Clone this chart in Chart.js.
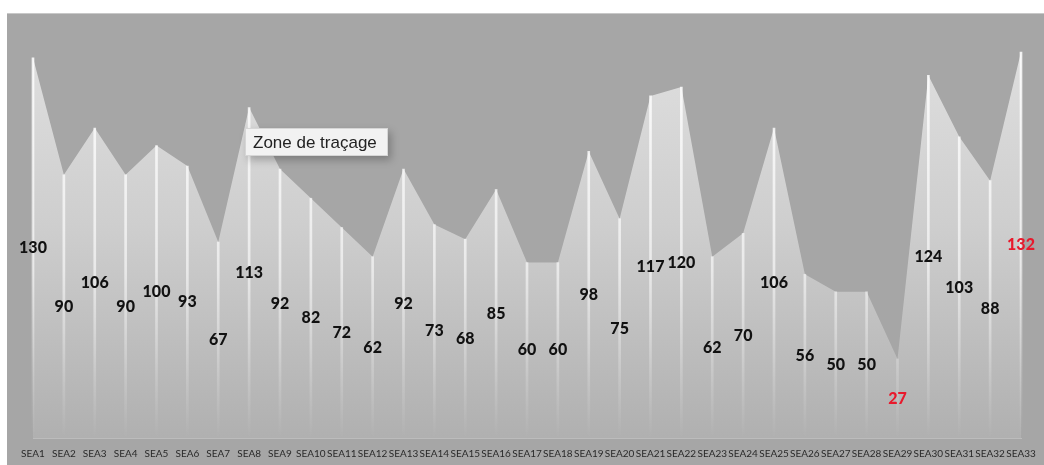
<!DOCTYPE html>
<html>
<head>
<meta charset="utf-8">
<script src="https://cdn.jsdelivr.net/npm/chart.js@4/dist/chart.umd.min.js"></script>
<style>
  body { margin: 0; background: #fff; width: 1044px; height: 465px; overflow: hidden; }
  #panel { position: absolute; left: 7px; top: 13px; width: 1037px; height: 452px; background: #a6a6a6; border-top: 1px solid #c8c8c8; box-sizing: border-box; }
  #panel canvas { position: absolute; left: 0; top: 0; }
  #tip { position: absolute; left: 245px; top: 128px; width: 143px; height: 28px; background: #f2f2f2; border: 1px solid #d6d6d6;
         box-shadow: 3px 4px 8px rgba(0,0,0,0.25); font: 17px "Liberation Sans", Arial, sans-serif; color: #222; line-height: 27px; text-indent: 7px; box-sizing: border-box; white-space: nowrap; }
</style>
</head>
<body>
<div id="panel"><canvas id="myChart" width="1037" height="452"></canvas></div>
<div id="tip">Zone de traçage</div>
<script>
// semaines et valeurs
const weeks = ['SEA1','SEA2','SEA3','SEA4','SEA5','SEA6','SEA7','SEA8','SEA9','SEA10','SEA11',
  'SEA12','SEA13','SEA14','SEA15','SEA16','SEA17','SEA18','SEA19','SEA20','SEA21','SEA22',
  'SEA23','SEA24','SEA25','SEA26','SEA27','SEA28','SEA29','SEA30','SEA31','SEA32','SEA33'];
const values = [130, 90, 106, 90, 100, 93, 67, 113, 92, 82, 72,
  62, 92, 73, 68, 85, 60, 60, 98, 75, 117, 120,
  62, 70, 106, 56, 50, 50, 27, 124, 103, 88, 132];
const yMax = 145;

const maxVal = Math.max(...values);
const minVal = Math.min(...values);

// étiquettes au milieu des barres
const centerLabels = {
    id: 'centerLabels',
    afterDatasetsDraw(chart) {
        const ctx = chart.ctx;
        const meta = chart.getDatasetMeta(1);
        ctx.save();
        ctx.font = '900 16px Lato, "Open Sans", sans-serif';
        ctx.textAlign = 'center';
        ctx.textBaseline = 'middle';
        meta.data.forEach((bar, i) => {
            const v = values[i];
            const y = (bar.y + bar.base) / 2;
            ctx.fillStyle = (v === maxVal || v === minVal) ? '#e8192c' : '#111';
            ctx.fillText(String(v), bar.x, y);
        });
        ctx.restore();
    }
};

const ctx = document.getElementById('myChart').getContext('2d');

function areaGradient(context) {
    const area = context.chart.chartArea;
    if (!area) return '#d0d0d0';
    const g = context.chart.ctx.createLinearGradient(0, area.top, 0, area.bottom);
    g.addColorStop(0, 'rgb(226,226,226)');
    g.addColorStop(0.5, 'rgb(206,206,206)');
    g.addColorStop(1, 'rgb(176,176,176)');
    return g;
}

function lineGradient(context) {
    const area = context.chart.chartArea;
    if (!area) return '#fff';
    const g = context.chart.ctx.createLinearGradient(0, area.top, 0, area.bottom);
    g.addColorStop(0, 'rgba(255,255,255,0.9)');
    g.addColorStop(0.6, 'rgba(255,255,255,0.6)');
    g.addColorStop(0.85, 'rgba(255,255,255,0.2)');
    g.addColorStop(1, 'rgba(255,255,255,0)');
    return g;
}

const myChart = new Chart(ctx, {
    type: 'line',
    data: {
        labels: weeks,
        datasets: [{
            type: 'line',
            data: values,
            fill: 'origin',
            backgroundColor: areaGradient,
            borderWidth: 0,
            pointRadius: 0,
            tension: 0,
            order: 2
        }, {
            type: 'bar',
            data: values,
            backgroundColor: lineGradient,
            barThickness: 2,
            clip: false,
            order: 1
        }]
    },
    options: {
        responsive: false,
        animation: false,
        layout: { padding: { left: 26, right: 23, top: 0, bottom: 4 } },
        plugins: { legend: { display: false }, tooltip: { enabled: false } },
        scales: {
            x: {
                offset: false,
                grid: { display: false, offset: false },
                border: { color: 'rgba(255,255,255,0.25)' },
                ticks: { color: '#2a2a2a', font: { size: 10, family: 'Lato' }, maxRotation: 0, autoSkip: false, padding: 2 }
            },
            y: {
                display: false,
                min: 0,
                max: yMax
            }
        }
    },
    plugins: [centerLabels]
});
</script>
</body>
</html>
